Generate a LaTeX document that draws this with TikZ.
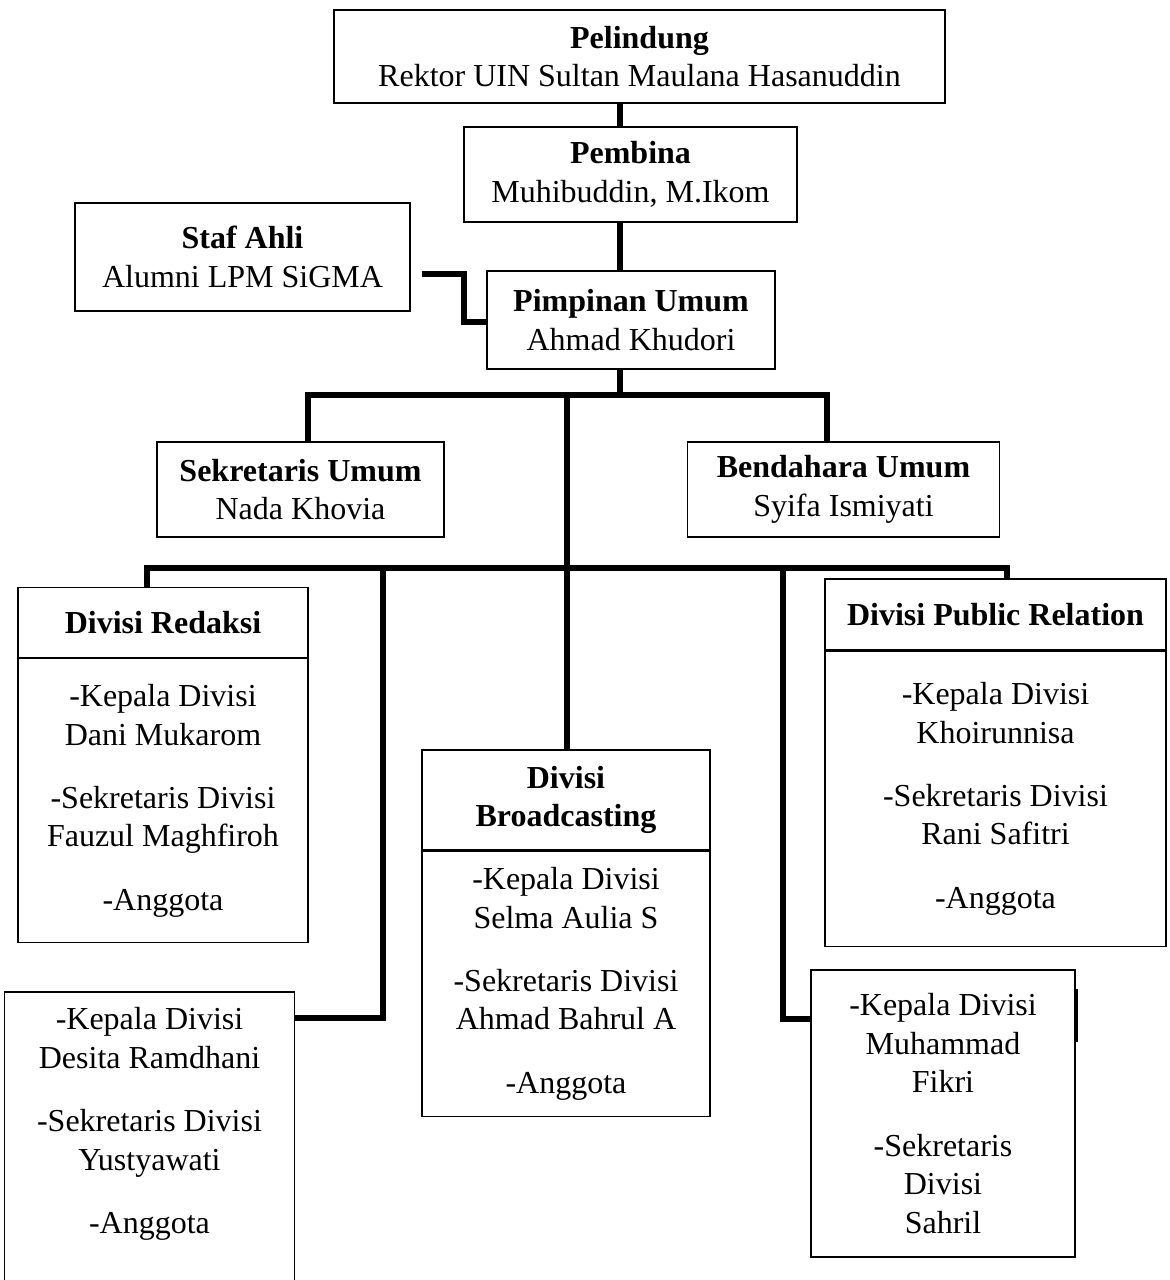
\documentclass[tikz,border=0pt]{standalone}
\usepackage{fontspec}
\setmainfont{Liberation Serif}
\usetikzlibrary{positioning}
\newcommand{\teks}{\fontsize{16pt}{19.3pt}\selectfont}
\tikzset{
  garis/.style={line width=2.6pt},
  tepi/.style={line width=0.6pt},
  kotak/.style={draw,tepi,align=center,inner sep=0pt,font=\teks},
  isi/.style={kotak,minimum width=#1}
}

\begin{document}
\begin{tikzpicture}[x=0.5pt,y=-0.5pt]
\useasboundingbox (0,0) rectangle (1170,1280);
\node[kotak,minimum width=305.5pt,minimum height=46.5pt] (pel) at (639.5,56.5) {\textbf{Pelindung}\\Rektor UIN Sultan Maulana Hasanuddin};
\node[kotak,minimum width=166.5pt,minimum height=47.5pt] (pem) at (630.5,174.5) {\textbf{Pembina}\\Muhibuddin, M.Ikom};
\node[kotak,minimum width=167.5pt,minimum height=54pt] (sta) at (242.5,257) {\textbf{Staf Ahli}\\Alumni LPM SiGMA};
\node[kotak,minimum width=144pt,minimum height=49pt] (pim) at (631,320) {\textbf{Pimpinan Umum}\\Ahmad Khudori};
\node[kotak,minimum width=143.5pt,minimum height=47.5pt] (sek) at (300.5,489.5) {\textbf{Sekretaris Umum}\\Nada Khovia};
\node[kotak,minimum width=156pt,minimum height=47.5pt] (ben) at (843.5,489.5) {\textbf{Bendahara Umum}\\Syifa Ismiyati};
\node[isi=145pt,minimum height=35pt] (drh) at (163,622.5) {\textbf{Divisi Redaksi}};
\node[isi=145pt,minimum height=142pt,below=0pt of drh] (drb) {-Kepala Divisi\\Dani Mukarom\\[12.25pt]-Sekretaris Divisi\\Fauzul Maghfiroh\\[12.25pt]-Anggota};
\node[isi=170.5pt,minimum height=35.5pt] (dph) at (995.5,614.5) {\textbf{Divisi Public Relation}};
\node[isi=170.5pt,minimum height=147.5pt,below=0pt of dph] (dpb) {-Kepala Divisi\\Khoirunnisa\\[12.25pt]-Sekretaris Divisi\\Rani Safitri\\[12.25pt]-Anggota};
\node[isi=144pt,minimum height=50pt] (dbh) at (566,800) {\textbf{Divisi}\\\textbf{Broadcasting}};
\node[isi=144pt,minimum height=132.5pt,below=0pt of dbh] (dbb) {-Kepala Divisi\\Selma Aulia S\\[12.25pt]-Sekretaris Divisi\\Ahmad Bahrul A\\[12.25pt]-Anggota};
\node[align=center,inner sep=0pt,font=\teks,minimum width=144.5pt] (dvc) at (149.5,1124) {-Kepala Divisi\\Desita Ramdhani\\[12.25pt]-Sekretaris Divisi\\Yustyawati\\[12.25pt]-Anggota};
\node[isi=132pt,minimum height=143.5pt] (dve) at (943,1113.5) {-Kepala Divisi\\Muhammad\\Fikri\\[12.25pt]-Sekretaris\\Divisi\\Sahril};

\coordinate (g1) at (0,1286); \coordinate (g2) at (0,992);
\draw[tepi] (dvc.west |- g1) -- (dvc.west |- g2) -- (dvc.east |- g2) -- (dvc.east |- g1);
\draw[line width=1pt] ([xshift=0.5pt,yshift=-10pt]dve.north east) -- ([xshift=0.5pt,yshift=-36.5pt]dve.north east);

\coordinate (s1) at (620,395);
\draw[garis] (pel.south -| s1) -- (pem.north -| s1);
\draw[garis] (pem.south -| s1) -- (pim.north -| s1);
\draw[garis] (pim.south -| s1) -- (s1);
\coordinate (f1) at (464,274); \coordinate (f2) at (0,322);
\draw[garis] ([xshift=5.5pt]sta.east |- f1) -- (f1) |- (pim.west |- f2);
\coordinate (c1) at (308,395); \coordinate (c2) at (827,395); \coordinate (c3) at (567,395);
\draw[garis] (sek.north -| c1) -- (c1) -- (c2) -- (ben.north -| c2);
\draw[garis] (c3) -- (dbh.north -| c3);
\coordinate (d1) at (147,568); \coordinate (d2) at (1007,568);
\coordinate (d3) at (383,568); \coordinate (d4) at (783,568);
\coordinate (e1) at (0,1018); \coordinate (e2) at (0,1019);
\draw[garis] (drh.north -| d1) -- (d1) -- (d2) -- (dph.north -| d2);
\draw[garis] (d3) |- (dvc.east |- e1);
\draw[garis] (d4) |- (dve.west |- e2);
\end{tikzpicture}
\end{document}
